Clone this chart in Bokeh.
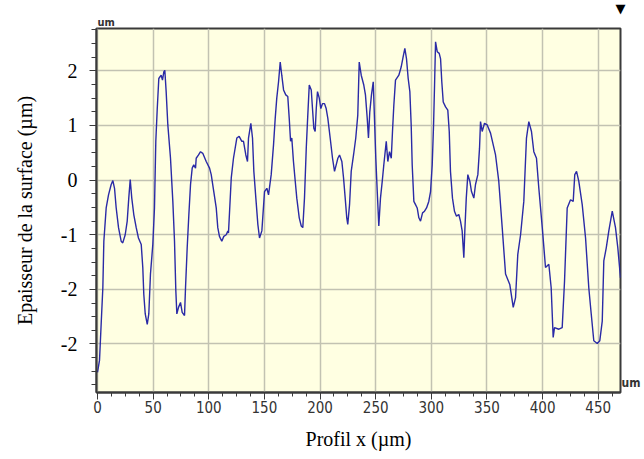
from bokeh.plotting import figure
from bokeh.models import Range1d, SingleIntervalTicker, Label
from bokeh.embed import file_html
from bokeh.resources import INLINE

# ---- data ----
profile_x = [0.0, 1.8, 3.3, 4.8, 5.7, 7.8, 9.9, 12.3, 13.8, 15.3,
             16.8, 18.9, 21.3, 22.7, 24.9, 26.7, 28.1, 29.4, 30.8, 32.6,
             34.8, 36.8, 39.3, 40.7, 41.6, 42.9, 44.7, 46.1, 47.6, 49.7,
             51.2, 52.4, 53.7, 55.1, 57.2, 58.4, 59.6, 60.5, 61.7, 63.2,
             65.6, 67.7, 69.2, 70.4, 71.3, 72.8, 74.6, 76.1, 78.2, 79.1,
             80.6, 82.1, 83.6, 85.1, 86.5, 88.1, 88.7, 90.8, 92.6, 94.6,
             97.7, 100.7, 102.2, 104.5, 106.7, 108.1, 109.6, 111.7, 113.5, 115.7,
             117.1, 117.7, 120.2, 122.2, 125.2, 127.3, 129.7, 131.2, 133.3, 134.8,
             135.7, 137.8, 139.3, 140.5, 142.3, 144.1, 145.6, 147.7, 150.1, 152.2,
             153.7, 156.1, 158.2, 159.7, 161.1, 162.7, 164.2, 165.6, 167.2, 169.2,
             171.0, 172.3, 173.5, 174.6, 176.1, 177.7, 179.1, 181.3, 183.1, 184.5,
             186.0, 187.6, 188.7, 190.3, 192.1, 193.2, 194.4, 195.6, 196.6, 197.7,
             199.3, 200.7, 202.2, 204.0, 205.5, 207.0, 209.1, 211.2, 213.0, 214.5,
             216.0, 217.5, 219.6, 221.1, 222.6, 224.0, 224.9, 226.5, 228.0, 230.1,
             232.1, 233.9, 235.2, 237.0, 239.3, 240.8, 242.4, 243.5, 244.7, 246.2,
             247.8, 248.9, 250.1, 251.4, 252.8, 254.3, 255.9, 257.3, 259.5, 260.9,
             262.4, 264.0, 265.1, 266.3, 267.8, 270.8, 272.9, 274.7, 276.2, 277.7,
             279.2, 280.7, 281.9, 282.8, 284.3, 285.8, 287.3, 288.8, 290.3, 292.1,
             293.9, 295.7, 297.7, 299.3, 300.8, 302.0, 302.9, 303.8, 305.3, 307.1,
             308.3, 309.4, 310.7, 312.8, 314.8, 316.1, 317.2, 319.0, 320.8, 322.6,
             324.7, 326.2, 327.7, 329.2, 330.1, 331.4, 332.8, 334.6, 336.1, 338.2,
             339.7, 341.8, 343.3, 344.2, 345.7, 347.8, 350.2, 353.2, 357.7, 360.6,
             363.7, 366.7, 370.5, 373.6, 375.7, 377.7, 380.2, 383.1, 385.5, 387.6,
             390.0, 392.1, 394.5, 396.6, 399.7, 402.6, 405.6, 407.7, 409.5, 410.7,
             414.6, 417.6, 419.7, 422.1, 425.1, 427.5, 428.9, 430.5, 432.5, 435.6,
             438.6, 441.5, 443.7, 446.0, 449.1, 451.4, 453.6, 455.0, 457.2, 459.5,
             462.6, 465.5, 467.6, 470.0]

profile_y = [-3.52, -3.30, -2.63, -1.97, -1.12, -0.51, -0.27, -0.08, -0.01, -0.15,
             -0.51, -0.87, -1.12, -1.15, -1.00, -0.75, -0.33, 0.01, -0.33, -0.63,
             -0.87, -1.06, -1.18, -1.60, -2.09, -2.45, -2.64, -2.45, -1.72, -1.18,
             -0.51, 0.71, 1.31, 1.86, 1.92, 1.83, 1.98, 2.01, 1.62, 1.01,
             0.40, -0.39, -1.12, -2.03, -2.45, -2.33, -2.24, -2.42, -2.48, -1.97,
             -1.24, -0.63, -0.08, 0.22, 0.28, 0.22, 0.40, 0.46, 0.52, 0.49,
             0.34, 0.22, 0.10, -0.21, -0.51, -0.87, -1.03, -1.12, -1.03, -1.00,
             -0.93, -0.97, 0.04, 0.40, 0.77, 0.80, 0.71, 0.71, 0.46, 0.34,
             0.77, 1.04, 0.77, 0.16, -0.33, -0.81, -1.06, -0.93, -0.21, -0.15,
             -0.27, 0.10, 0.65, 1.13, 1.50, 1.80, 2.16, 1.92, 1.65, 1.56,
             1.53, 1.13, 0.71, 0.77, 0.34, -0.02, -0.33, -0.69, -0.84, -0.87,
             -0.33, 0.58, 1.07, 1.74, 1.65, 1.31, 0.95, 0.89, 1.31, 1.62,
             1.50, 1.31, 1.40, 1.40, 1.31, 1.13, 0.77, 0.40, 0.16, 0.28,
             0.40, 0.46, 0.34, 0.04, -0.33, -0.69, -0.81, -0.45, 0.16, 0.46,
             0.77, 1.19, 2.16, 1.92, 1.74, 1.56, 1.13, 0.77, 1.25, 1.56,
             1.80, 1.13, 0.40, -0.21, -0.84, -0.33, -0.02, 0.28, 0.71, 0.34,
             0.52, 0.40, 0.89, 1.37, 1.83, 1.92, 2.07, 2.26, 2.41, 2.22,
             1.86, 1.62, 1.01, 0.28, -0.39, -0.45, -0.51, -0.69, -0.75, -0.60,
             -0.57, -0.51, -0.39, -0.21, 0.28, 1.01, 1.74, 2.53, 2.35, 2.32,
             2.22, 1.80, 1.43, 1.34, 1.28, 0.89, 0.16, -0.33, -0.57, -0.66,
             -0.63, -0.75, -0.93, -1.42, -0.93, -0.33, 0.10, -0.02, -0.21, -0.33,
             -0.08, 0.10, 0.58, 1.07, 0.89, 1.04, 1.01, 0.86, 0.46, -0.02,
             -0.87, -1.72, -1.91, -2.33, -2.15, -1.36, -1.00, -0.39, 0.77, 1.07,
             0.89, 0.52, 0.40, -0.15, -0.87, -1.60, -1.54, -1.97, -2.88, -2.70,
             -2.73, -2.70, -1.85, -0.51, -0.36, -0.39, 0.10, 0.16, -0.02, -0.45,
             -1.06, -1.97, -2.45, -2.94, -2.99, -2.94, -2.58, -1.48, -1.24, -0.93,
             -0.57, -0.87, -1.24, -1.79]

y_tick_values = [-3, -2, -1, 0, 1, 2]
y_tick_labels = ["-2", "-2", "-1", "0", "1", "2"]
x_tick_step = 50
y_title = "Epaisseur de la surface (µm)"
x_title = "Profil x (µm)"
unit_text = "um"
marker_text = "▼"

# ---- styling ----
SERIF = "Liberation Serif"
NARROW = "'Liberation Sans Narrow', 'DejaVu Sans Condensed', sans-serif"

W, H = 644, 459
p = figure(width=W, height=H, output_backend="svg", toolbar_location=None,
           x_range=Range1d(-0.9, 470.0), y_range=Range1d(-3.888, 2.775),
           min_border_left=96, min_border_right=24, min_border_top=22,
           min_border_bottom=67)

p.background_fill_color = "#FFFFE2"
p.border_fill_color = "white"
p.outline_line_color = "#3a3a3a"
p.outline_line_width = 2

p.line(profile_x, profile_y, line_color="#2a2aa6", line_width=1.4)

# axes
p.xaxis.ticker = SingleIntervalTicker(interval=x_tick_step, num_minor_ticks=4)
p.yaxis.ticker = SingleIntervalTicker(interval=1, num_minor_ticks=4)
p.yaxis.major_label_overrides = {v: s for v, s in zip(y_tick_values, y_tick_labels)}

for ax in (p.xaxis[0], p.yaxis[0]):
    ax.axis_line_color = "#3a3a3a"
    ax.axis_line_width = 2
    ax.major_tick_line_color = "#3a3a3a"
    ax.minor_tick_line_color = "#3a3a3a"
    ax.major_tick_in = 0
    ax.minor_tick_in = 0
    ax.axis_label_text_font = SERIF
    ax.axis_label_text_font_size = "20px"
    ax.axis_label_text_font_style = "normal"
    ax.axis_label_text_color = "black"

p.yaxis.major_tick_out = 7
p.yaxis.minor_tick_out = 5
p.yaxis.major_label_standoff = 12
p.yaxis.major_label_text_font = SERIF
p.yaxis.major_label_text_font_size = "20px"
p.yaxis.major_label_text_color = "black"
p.yaxis.axis_label = y_title
p.yaxis.axis_label_standoff = 22

p.xaxis.major_tick_out = 7
p.xaxis.minor_tick_out = 4
p.xaxis.major_label_standoff = 1
p.xaxis.major_label_text_font = NARROW
p.xaxis.major_label_text_font_size = "15px"
p.xaxis.major_label_text_color = "#333333"
p.xaxis.axis_label = x_title
p.xaxis.axis_label_standoff = 12

p.xgrid.grid_line_color = "#c2c2b2"
p.ygrid.grid_line_color = "#c2c2b2"
p.xgrid.grid_line_width = 1.5
p.ygrid.grid_line_width = 1.5

# unit labels and marker in the side panels
p.add_layout(Label(x=1, y=0, x_units="screen", y_units="screen", text=unit_text,
                   text_align="left", text_baseline="bottom", text_font_style="bold",
                   text_font=NARROW, text_font_size="11px", text_color="#333333"), "above")
p.add_layout(Label(x=524, y=0, x_units="screen", y_units="screen", text=marker_text,
                   text_align="center", text_baseline="bottom",
                   text_font="DejaVu Sans", text_font_size="13px", text_color="black"), "above")
p.add_layout(Label(x=1, y=3, x_units="screen", y_units="screen", text=unit_text,
                   text_align="left", text_baseline="bottom", text_font_style="bold",
                   text_font=NARROW, text_font_size="12px", text_color="#333333"), "right")

open("out.html", "w").write(file_html(p, INLINE))
